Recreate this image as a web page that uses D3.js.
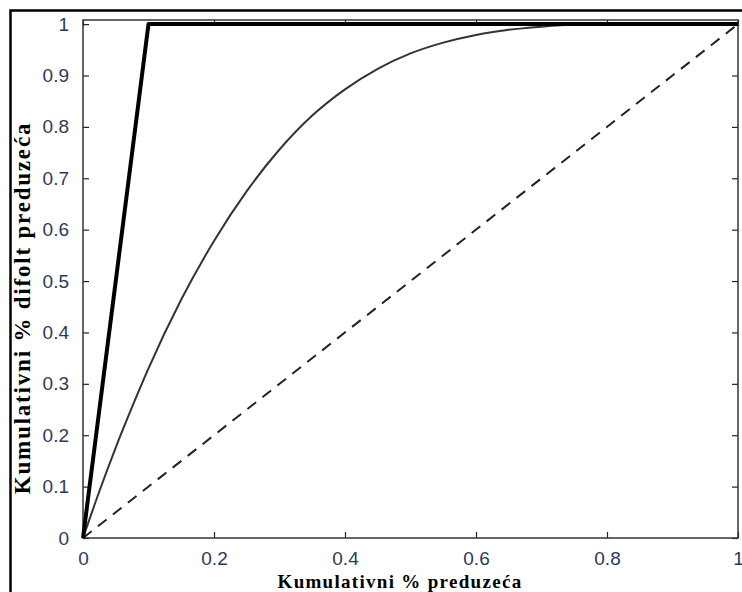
<!DOCTYPE html>
<html>
<head>
<meta charset="utf-8">
<script src="https://cdn.jsdelivr.net/npm/d3@7"></script>
<style>
  body { margin: 0; background: #fff; }
  svg { display: block; }
  .tick text { font-family: "Liberation Sans", Arial, sans-serif; font-size: 19px; fill: #2a3b5c; }
  .axis-title { font-family: "Liberation Serif", "Times New Roman", serif; font-weight: bold; fill: #000; }
</style>
</head>
<body>
<svg id="chart" width="742" height="592"></svg>
<script>
// --- данные ---
const xTicks = [0, 0.2, 0.4, 0.6, 0.8, 1];
const yTicks = [0, 0.1, 0.2, 0.3, 0.4, 0.5, 0.6, 0.7, 0.8, 0.9, 1];

// идеальная модель (толстая линия)
const perfectX = [0, 0.1, 1];
const perfectY = [0, 1, 1];

// модель (тонкая кривая)
const modelX = [0, 0.025, 0.05, 0.075, 0.1, 0.15, 0.2, 0.25, 0.3, 0.35, 0.4, 0.45, 0.5, 0.55, 0.6, 0.65, 0.7, 0.75, 0.8, 1];
const modelY = [0, 0.091, 0.176, 0.255, 0.33, 0.464, 0.578, 0.675, 0.756, 0.822, 0.873, 0.913, 0.943, 0.964, 0.979, 0.989, 0.995, 0.999, 1, 1];

// случайная модель (пунктир)
const randomX = [0, 1];
const randomY = [0, 1];

const xLabel = "Kumulativni % preduzeća";
const yLabel = "Kumulativni % difolt preduzeća";

const svg = d3.select("#chart");

// внешняя рамка
svg.append("rect")
    .attr("x", 10.5).attr("y", 10.5)
    .attr("width", 800).attr("height", 700)
    .attr("fill", "none").attr("stroke", "#000").attr("stroke-width", 2.5);

const margin = { left: 83, top: 20, right: 4, bottom: 54 };
const W = 742 - margin.left - margin.right; // 655
const H = 592 - margin.top - margin.bottom; // 518

const x = d3.scaleLinear().domain([0, 1]).range([0, W]);
const y = d3.scaleLinear().domain([0, 1.008]).range([H, 0]);

const g = svg.append("g").attr("transform", `translate(${margin.left},${margin.top})`);

// оси (тики внутрь, как в MATLAB)
const axStyle = sel => {
    sel.select(".domain").remove();
    sel.selectAll(".tick line").attr("stroke", "#222").attr("stroke-width", 1.2);
};
g.append("g").attr("transform", `translate(0,${H})`)
    .call(d3.axisBottom(x).tickValues(xTicks).tickSize(-6).tickPadding(14).tickFormat(d3.format("")))
    .call(axStyle);
g.append("g")
    .call(d3.axisLeft(y).tickValues(yTicks).tickSize(-6).tickPadding(14).tickFormat(d3.format("")))
    .call(axStyle);
g.append("g")
    .call(d3.axisTop(x).tickValues(xTicks).tickSize(-6).tickFormat(""))
    .call(axStyle);
g.append("g").attr("transform", `translate(${W},0)`)
    .call(d3.axisRight(y).tickValues(yTicks).tickSize(-6).tickFormat(""))
    .call(axStyle);

// рамка осей
g.append("rect")
    .attr("width", W).attr("height", H)
    .attr("fill", "none").attr("stroke", "#333").attr("stroke-width", 1.5);

// пунктир
g.append("path")
    .datum(d3.zip(randomX, randomY))
    .attr("d", d3.line().x(d => x(d[0])).y(d => y(d[1])))
    .attr("fill", "none").attr("stroke", "#222").attr("stroke-width", 2)
    .attr("stroke-dasharray", "11,8");

// тонкая кривая
g.append("path")
    .datum(d3.zip(modelX, modelY))
    .attr("d", d3.line().x(d => x(d[0])).y(d => y(d[1])).curve(d3.curveMonotoneX))
    .attr("fill", "none").attr("stroke", "#333").attr("stroke-width", 2);

// толстая линия
g.append("path")
    .datum(d3.zip(perfectX, perfectY))
    .attr("d", d3.line().x(d => x(d[0])).y(d => y(d[1])))
    .attr("fill", "none").attr("stroke", "#000").attr("stroke-width", 4)
    .attr("stroke-linejoin", "round");

// подписи осей
svg.append("text").attr("class", "axis-title")
    .attr("x", 400).attr("y", 588)
    .style("font-size", "19px")
    .style("letter-spacing", "1.3px")
    .attr("text-anchor", "middle")
    .text(xLabel);
svg.append("text").attr("class", "axis-title")
    .attr("transform", "translate(30,308) rotate(-90)")
    .style("font-size", "23px")
    .style("letter-spacing", "1.8px")
    .attr("text-anchor", "middle")
    .text(yLabel);
</script>
</body>
</html>
